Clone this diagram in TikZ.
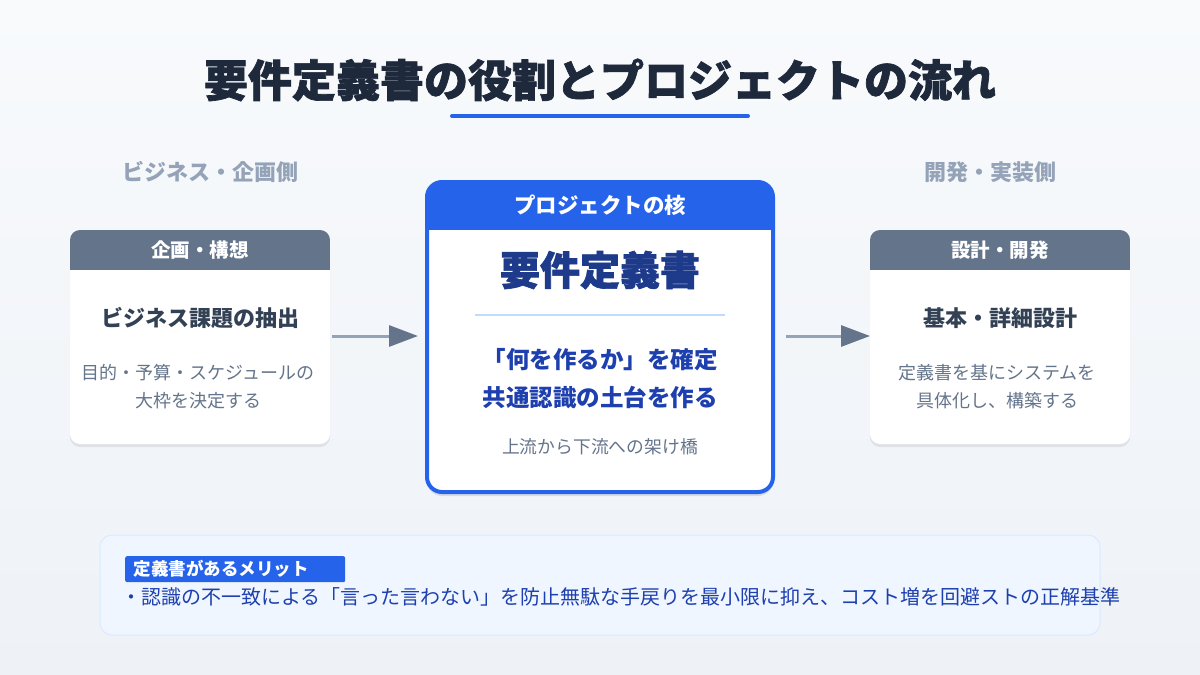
\documentclass[tikz,border=0pt]{standalone}
\usepackage{fontspec}
\setmainfont{Noto Sans CJK JP}
\newfontfamily\heavyfont{Noto Sans CJK JP}[BoldFeatures={FakeBold=1.6}]
\usetikzlibrary{shadows,arrows.meta,calc}
\definecolor{bgtop}{HTML}{F8FAFC}
\definecolor{bgbot}{HTML}{EEF2F7}
\definecolor{titlec}{HTML}{1E293B}
\definecolor{blue1}{HTML}{2563EB}
\definecolor{navy}{HTML}{1E3A8A}
\definecolor{navy2}{HTML}{1E40AF}
\definecolor{slate}{HTML}{64748B}
\definecolor{slatel}{HTML}{94A3B8}
\definecolor{dark}{HTML}{334155}
\definecolor{sep}{HTML}{BFDBFE}
\definecolor{notebg}{HTML}{EFF6FF}
\definecolor{noteborder}{HTML}{DBEAFE}
\tikzset{
  card/.style={fill=white, rounded corners=10pt, minimum width=260pt, minimum height=214pt,
    drop shadow={shadow xshift=0pt, shadow yshift=-3pt, opacity=0.08, fill=black}},
  hdrtext/.style={text=white, font=\bfseries\fontsize{19.5}{22}\selectfont},
  cardtitle/.style={text=dark, font=\bfseries\fontsize{22}{26}\selectfont},
  carddesc/.style={text=slate, font=\fontsize{18}{28}\selectfont, align=center},
  sidelabel/.style={text=slatel, font=\bfseries\fontsize{22}{26}\selectfont},
  flow/.style={draw=slatel, line width=3pt, -{Triangle[length=29pt,width=21pt,color=slate]}},
}
\begin{document}
\begin{tikzpicture}[x=1pt,y=-1pt]
\useasboundingbox (0,0) rectangle (1200,675);
\shade[top color=bgtop, bottom color=bgbot] (0,0) rectangle (1200,675);

% title
\node[text=titlec, font=\heavyfont\bfseries\fontsize{44}{48}\selectfont] (title) at (600,80) {要件定義書の役割とプロジェクトの流れ};
\draw[blue1, line width=4pt, line cap=round] (452,116) coordinate (ul1) -- (748,116) coordinate (ul2);

% side labels
\node[sidelabel] (lside) at (210,172) {ビジネス・企画側};
\node[sidelabel] (rside) at (990,172) {開発・実装側};

% left card
\node[card] (left) at (200,337) {};
\begin{scope}
\clip[rounded corners=10pt] (70,230) rectangle (330,444);
\fill[slate] (70,230) rectangle (330,270);
\end{scope}
\node[hdrtext] (lhead) at (200,250) {企画・構想};
\node[cardtitle] (ltitle) at (200,318) {ビジネス課題の抽出};
\node[carddesc] (ldesc) at (198,387) {目的・予算・スケジュールの\\大枠を決定する};

% right card
\node[card] (right) at (1000,337) {};
\begin{scope}
\clip[rounded corners=10pt] (870,230) rectangle (1130,444);
\fill[slate] (870,230) rectangle (1130,270);
\end{scope}
\node[hdrtext] (rhead) at (1000,250) {設計・開発};
\node[cardtitle] (rtitle) at (1000,318) {基本・詳細設計};
\node[carddesc] (rdesc) at (997,387) {定義書を基にシステムを\\具体化し、構築する};

% center card
\node[fill=white, rounded corners=15pt, minimum width=346pt, minimum height=310pt,
  drop shadow={shadow xshift=0pt, shadow yshift=-4pt, opacity=0.10, fill=black}] (core) at (600,337) {};
\begin{scope}
\clip[rounded corners=15pt] (427,182) rectangle (773,492);
\fill[blue1] (427,180) rectangle (773,230);
\end{scope}
\draw[blue1, line width=4pt, rounded corners=15pt] (427,182) rectangle (773,492);
\node[text=white, font=\bfseries\fontsize{21.5}{24}\selectfont] (chead) at (600,205) {プロジェクトの核};
\node[text=navy, font=\heavyfont\bfseries\fontsize{40}{44}\selectfont] (cbig) at (600,270) {要件定義書};
\draw[sep, line width=2pt] (475,315) coordinate (s1) -- (725,315) coordinate (s2);
\node[text=navy2, font=\bfseries\fontsize{23.5}{38}\selectfont, align=center] (cmain) at (600,379) {「何を作るか」を確定\\共通認識の土台を作る};
\node[text=slate, font=\fontsize{17.8}{20}\selectfont] (csub) at (600,447) {上流から下流への架け橋};

% arrows
\draw[flow] (left.east) ++(2,-1) -- (418,336) coordinate (ca);
\draw[flow] (786,336) coordinate (cb) -- (870,336);

% note box
\draw[fill=notebg, draw=noteborder, line width=1pt, rounded corners=12pt] (100,535) rectangle (1100,635);
\node[fill=blue1, rounded corners=2pt, minimum width=220pt, minimum height=26pt, anchor=north west, inner sep=0pt] (badge) at (125,556) {};
\node[text=white, font=\bfseries\fontsize{17.5}{20}\selectfont, anchor=west] (badgetext) at (130,569) {定義書があるメリット};
\node[text=navy2, font=\fontsize{20}{22}\selectfont, anchor=west, inner sep=0pt] (notetext) at (121,597) {・認識の不一致による「言った言わない」を防止無駄な手戻りを最小限に抑え、コスト増を回避ストの正解基準};
\end{tikzpicture}
\end{document}
